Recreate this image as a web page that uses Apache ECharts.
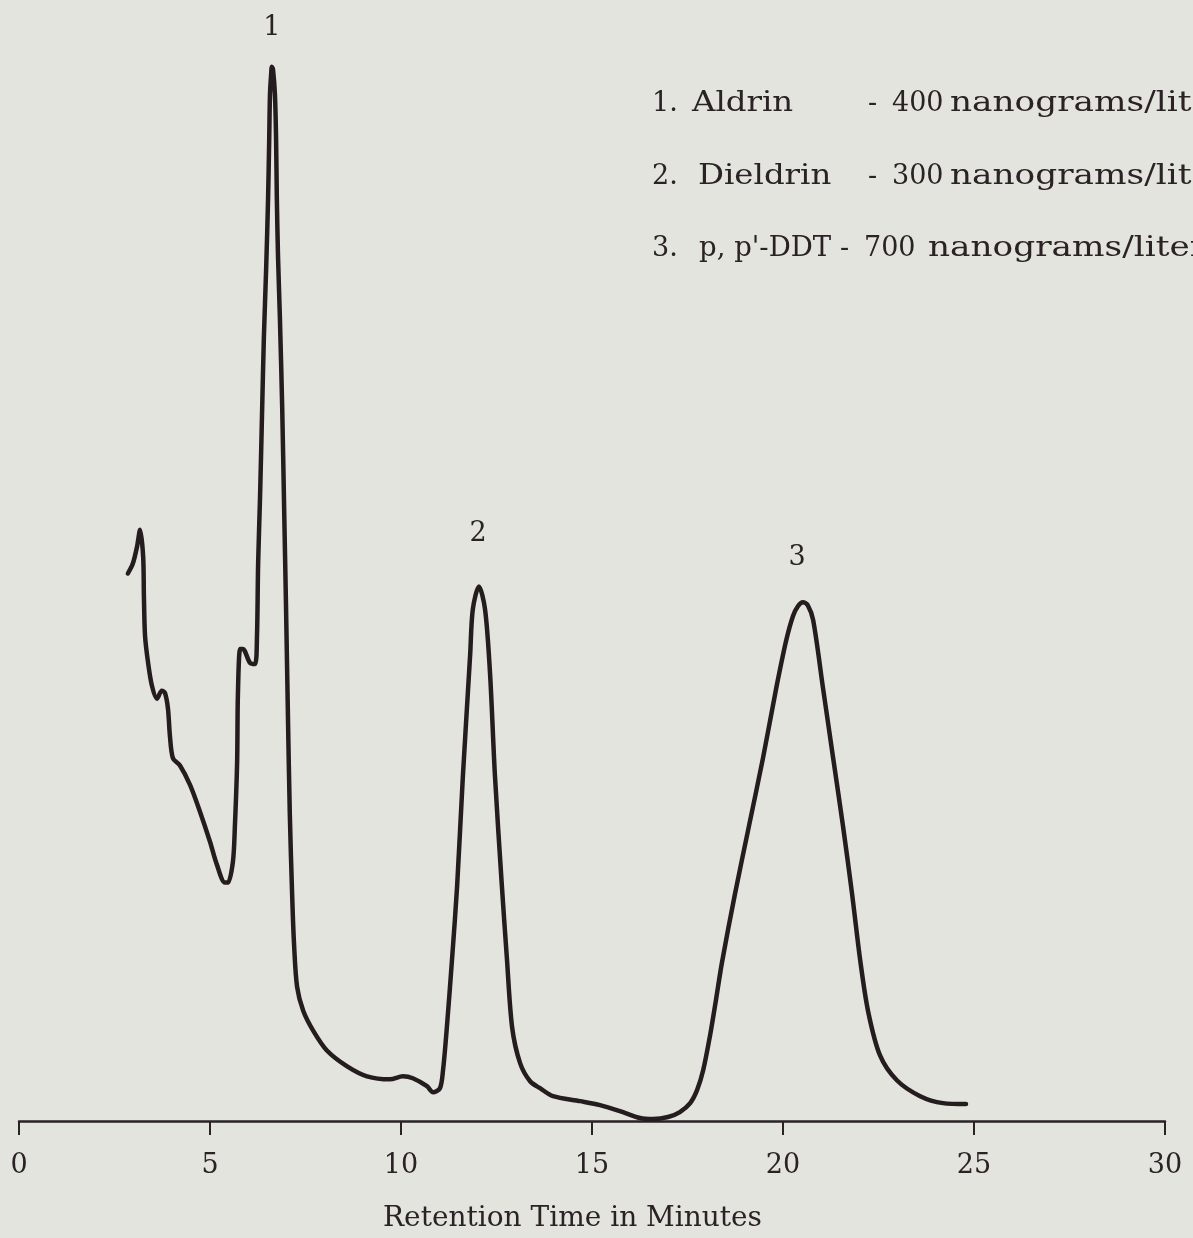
<!DOCTYPE html>
<html>
<head>
<meta charset="utf-8">
<script src="https://cdn.jsdelivr.net/npm/echarts@6/dist/echarts.min.js"></script>
<style>
  html, body { margin: 0; padding: 0; background: #e3e4dd; }
  #chart { width: 1193px; height: 1238px; }
</style>
</head>
<body>
<div id="chart"></div>
<script>
// Gas chromatogram: detector response vs retention time (minutes)
const retentionMin = [
  2.85, 2.98, 3.09, 3.17, 3.25, 3.27, 3.30, 3.38, 3.48, 3.61, 3.74, 3.82, 3.90, 3.95, 4.03,
  4.21, 4.48, 4.74, 5.00, 5.18, 5.39, 5.47, 5.60, 5.65, 5.71, 5.73, 5.79, 5.86, 6.05, 6.18,
  6.23, 6.26, 6.31, 6.36, 6.41, 6.47, 6.52, 6.55, 6.57, 6.60, 6.62, 6.65, 6.70, 6.73, 6.75,
  6.78, 6.83, 6.89, 6.94, 6.99, 7.04, 7.09, 7.15, 7.20, 7.28, 7.44, 7.70, 8.06, 8.59, 9.11,
  9.71, 10.05, 10.31, 10.68, 10.84, 11.02, 11.10, 11.20, 11.34, 11.47, 11.62, 11.81, 11.88, 12.04, 12.20,
  12.33, 12.46, 12.64, 12.77, 12.91, 13.12, 13.38, 13.64, 13.98, 14.69, 15.21, 15.73, 16.26, 16.60, 16.99,
  17.30, 17.57, 17.75, 17.91, 18.09, 18.25, 18.40, 18.74, 19.11, 19.48, 19.82, 20.08, 20.26, 20.39, 20.52,
  20.65, 20.79, 21.05, 21.31, 21.57, 21.81, 22.02, 22.23, 22.54, 22.98, 23.59, 24.19, 24.79
];
const response = [
  55.1, 56.1, 57.8, 59.5, 56.8, 52.8, 48.8, 46.1, 43.8, 42.5, 43.3, 43.1, 41.5, 38.8, 36.5,
  35.8, 33.8, 31.1, 28.1, 25.8, 24.0, 24.0, 26.1, 29.5, 36.1, 42.8, 47.5, 47.5, 46.1, 46.0,
  48.8, 56.1, 62.8, 70.8, 78.8, 85.8, 92.8, 98.8, 103.3, 105.3, 106.1, 105.8, 103.3, 98.8, 92.8,
  87.1, 80.8, 71.8, 61.8, 51.8, 40.8, 30.8, 22.8, 17.8, 13.5, 11.1, 9.1, 7.1, 5.5, 4.5,
  4.2, 4.5, 4.3, 3.5, 2.9, 3.3, 5.1, 9.4, 16.5, 23.7, 34.7, 46.9, 51.5, 53.8, 51.5,
  45.1, 34.7, 23.7, 16.5, 9.4, 5.8, 4.0, 3.3, 2.5, 2.0, 1.6, 1.0, 0.3, 0.2, 0.4,
  0.9, 1.8, 3.1, 5.1, 8.6, 12.3, 15.9, 22.8, 29.7, 36.6, 43.5, 48.3, 50.8, 51.8, 52.2,
  51.9, 50.4, 43.5, 36.6, 29.7, 22.8, 16.2, 11.0, 6.6, 4.1, 2.5, 1.8, 1.7
];

// Peak numbers and where they sit above each peak
const peakNumbers = ['1', '2', '3'];
const peakLabelMin = [6.62, 12.02, 20.37];
const peakLabelResp = [110.0, 59.1, 56.7];

// Compound key
const compoundNames = ['Aldrin', 'Dieldrin', "p, p'-DDT"];
const compoundAmounts = ['400', '300', '700'];
const amountUnit = 'nanograms/liter';

const xTicks = [0, 5, 10, 15, 20, 25, 30];

const ink = '#2a2224';
const font = 'DejaVu Serif';

const curve = retentionMin.map((t, i) => [t, response[i]]);
const peakMarks = peakNumbers.map((n, i) => [peakLabelMin[i], peakLabelResp[i], n]);

// Key layout: one row per compound, words set wide like the typewritten original
const keyRowTop = [90, 163, 235];
const keyCols = [
  { num: 652, name: 692, nameScale: 1.2, dash: 868, amount: 892, unit: 950 },
  { num: 652, name: 698, nameScale: 1.2, dash: 868, amount: 892, unit: 950 },
  { num: 652, name: 699, nameScale: 1.02, dash: 840, amount: 864, unit: 928 }
];
const keyGraphics = [];
function keyText(x, top, text, sx) {
  return {
    type: 'text', x: x, y: top, scaleX: sx || 1,
    style: { text: text, fill: ink, font: `27px "${font}"`, align: 'left', verticalAlign: 'top',
             textAlign: 'left', textVerticalAlign: 'top' }
  };
}
compoundNames.forEach((name, i) => {
  const c = keyCols[i], top = keyRowTop[i];
  keyGraphics.push(keyText(c.num, top, (i + 1) + '.'));
  keyGraphics.push(keyText(c.name, top, name, c.nameScale));
  keyGraphics.push(keyText(c.dash, top, '-'));
  keyGraphics.push(keyText(c.amount, top, compoundAmounts[i]));
  keyGraphics.push(keyText(c.unit, top, amountUnit, 1.27));
});

const chart = echarts.init(document.getElementById('chart'));
chart.setOption({
  backgroundColor: '#e3e4dd',
  animation: false,
  grid: { left: 19, right: 28, top: 28, bottom: 110, containLabel: false },
  xAxis: {
    type: 'value', min: xTicks[0], max: xTicks[xTicks.length - 1], interval: 5,
    name: 'Retention Time in Minutes',
    nameLocation: 'middle', nameGap: 84,
    nameTextStyle: { fontFamily: font, fontSize: 28, color: ink, padding: [0, 39, 0, 0] },
    axisLine: { lineStyle: { color: ink, width: 2.5 } },
    axisTick: { show: true, inside: false, length: 14, lineStyle: { color: ink, width: 2 } },
    axisLabel: { fontFamily: font, fontSize: 27, color: ink, margin: 31 },
    splitLine: { show: false }
  },
  yAxis: {
    type: 'value', min: 0, max: 110, show: false, splitLine: { show: false }
  },
  series: [
    {
      type: 'line', data: curve, showSymbol: false, smooth: 0.3,
      lineStyle: { color: '#241c1e', width: 4.5, cap: 'round', join: 'round' },
      z: 3
    },
    {
      type: 'scatter', data: peakMarks, symbolSize: 1, clip: false,
      itemStyle: { opacity: 0 },
      label: {
        show: true, position: 'inside', formatter: p => p.data[2],
        fontFamily: font, fontSize: 27, color: ink, textBorderWidth: 0, opacity: 1
      }
    }
  ],
  graphic: keyGraphics
});
</script>
</body>
</html>
